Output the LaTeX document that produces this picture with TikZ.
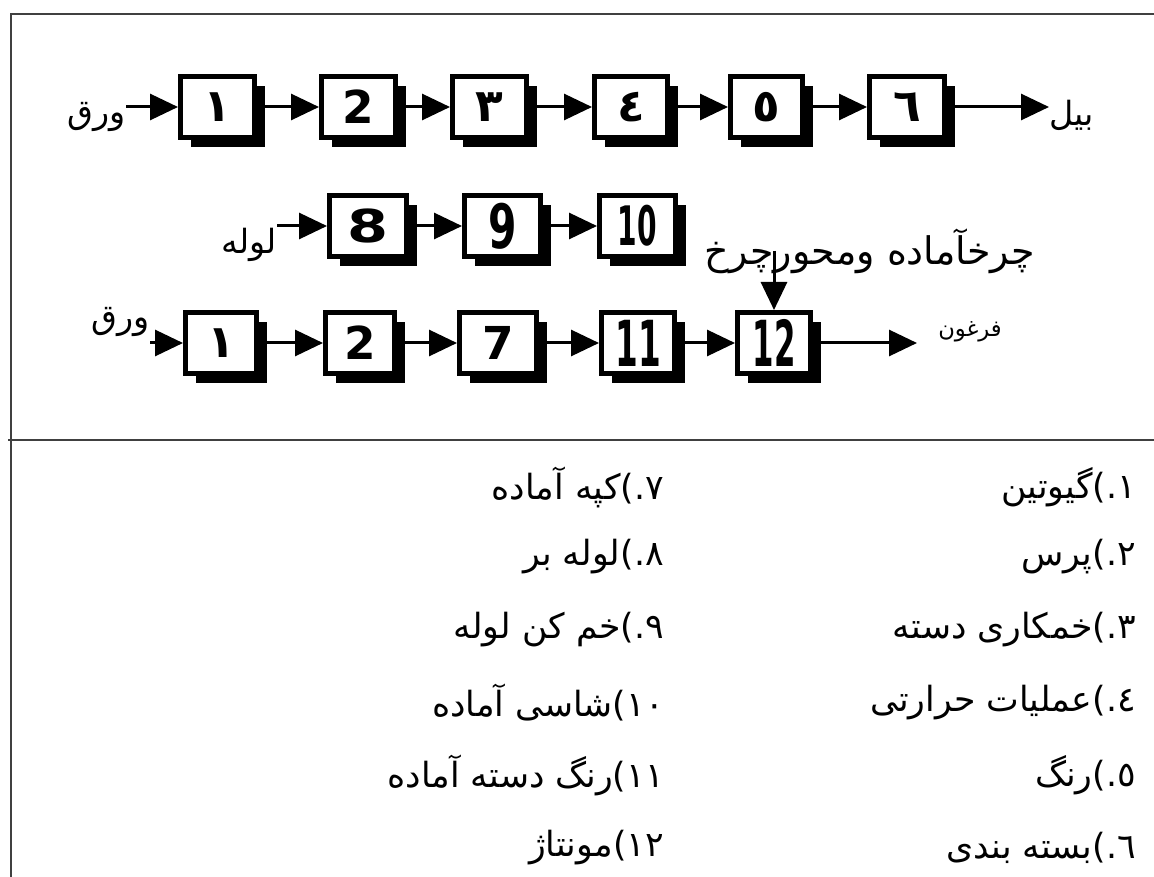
\documentclass[tikz,border=0pt]{standalone}
\usepackage{fontspec}
\usepackage{graphicx}
\setmainfont{DejaVu Sans}
\newfontfamily\arabicfont[Script=Arabic]{DejaVu Sans}
\TeXXeTstate=1
\usetikzlibrary{arrows.meta, shadows}
\definecolor{cframe}{HTML}{404040}
\tikzset{
  every picture/.style={x=0.75pt, y=-0.75pt},
  stage/.style={draw=black, fill=white, line width=3.75pt, inner sep=0pt,
    minimum height=45.75pt, font=\fontsize{34}{34}\selectfont\bfseries,
    drop shadow={shadow xshift=7.5pt, shadow yshift=-7.5pt, opacity=1, fill=black}},
  flow/.style={-{Triangle[length=21pt, width=19.5pt]}, line width=2.25pt},
  inlab/.style={font=\fontsize{25}{30}\selectfont\arabicfont, inner sep=0pt},
  legitem/.style={font=\fontsize{26}{31}\selectfont\arabicfont, anchor=east, inner sep=0pt},
  frameline/.style={draw=cframe, line width=1.5pt},
}

\begin{document}
\begin{tikzpicture}
  \useasboundingbox (0,0) rectangle (1154,877);
  % table frame
  \draw[frameline] (10,14) -- (1154,14);
  \draw[frameline] (11,14) -- (11,877);
  \draw[frameline] (8,440) -- (1154,440);
  % line 1: sheet -> blade
  \foreach \i/\x/\n/\w in {1/217.5/{\arabicfont ١}/74, 2/358.5/2/74, 3/489.5/{\arabicfont ٣}/74,
      4/631/{\arabicfont ٤}/73, 5/766.5/{\arabicfont ٥}/72, 6/907/{\arabicfont ٦}/75}
    \node[stage, minimum width=\w*0.75pt] (s\i) at (\x,107) {\n};
  \foreach \p/\q in {1/2, 2/3, 3/4, 4/5, 5/6} \draw[flow] (s\p) -- (s\q);
  \node[inlab, anchor=east] (sheetA) at (126,117) {\beginR ورق\endR};
  \node[inlab, anchor=west] (blade) at (1049,115) {\beginR بیل\endR};
  \draw[flow] (sheetA.east |- s1) -- (s1);
  \draw[flow] (s6) -- (blade.west |- s6);
  % line 2: tube -> chassis
  \foreach \i/\x/\n/\w in {8/368/{\scalebox{1.3}[1]{8}}/77, 9/502.5/{\scalebox{0.9}[1.35]{9}}/76,
      10/637.5/{\scalebox{0.62}[1.2]{10}}/76}
    \node[stage, minimum width=\w*0.75pt] (t\i) at (\x,226) {\n};
  \foreach \p/\q in {8/9, 9/10} \draw[flow] (t\p) -- (t\q);
  \node[inlab, anchor=east] (tube) at (277,245) {\beginR لوله\endR};
  \draw[flow] (tube.east |- t8) -- (t8);
  % line 3: sheet -> wheelbarrow
  \foreach \i/\x/\n/\w in {1/221/{\arabicfont ١}/71, 2/360/2/69, 7/498/7/77,
      11/638/{\scalebox{0.72}[1.4]{11}}/73, 12/774/{\scalebox{0.68}[1.4]{12}}/73}
    \node[stage, minimum width=\w*0.75pt] (w\i) at (\x,343) {\n};
  \foreach \p/\q in {1/2, 2/7, 7/11, 11/12} \draw[flow] (w\p) -- (w\q);
  \node[inlab, anchor=east] (sheetB) at (150,322) {\beginR ورق\endR};
  \draw[flow] (sheetB.east |- w1) -- (w1);
  \node[inlab, font=\fontsize{28.5}{32}\selectfont\arabicfont] (wheel) at (870,251) {\beginR چرخآماده ومحورچرخ\endR};
  \draw[flow] (w12 |- wheel.center) -- (w12);
  \node[inlab, anchor=west, font=\fontsize{17}{20}\selectfont\arabicfont] (cart) at (938,332) {\beginR فرغون\endR};
  \coordinate (cartin) at (917,343);
  \draw[flow] (w12) -- (cartin);
  % legend
  \foreach \k/\y/\t in {1/487/{١.)گیوتین}, 2/557/{٢.)پرس}, 3/630/{٣.)خمکاری دسته},
      4/703/{٤.)عملیات حرارتی}, 5/775/{٥.)رنگ}, 6/848/{٦.)بسته بندی}}
    \node[legitem] (r\k) at (1136,\y) {\beginR\t\endR};
  \foreach \k/\y/\t in {7/487/{٧.)کپه آماده}, 8/557/{٨.)لوله بر}, 9/630/{٩.)خم کن لوله},
      10/703/{١٠)شاسی آماده}, 11/775/{١١)رنگ دسته آماده}, 12/848/{١٢)مونتاژ}}
    \node[legitem] (l\k) at (664,\y) {\beginR\t\endR};
\end{tikzpicture}
\end{document}
